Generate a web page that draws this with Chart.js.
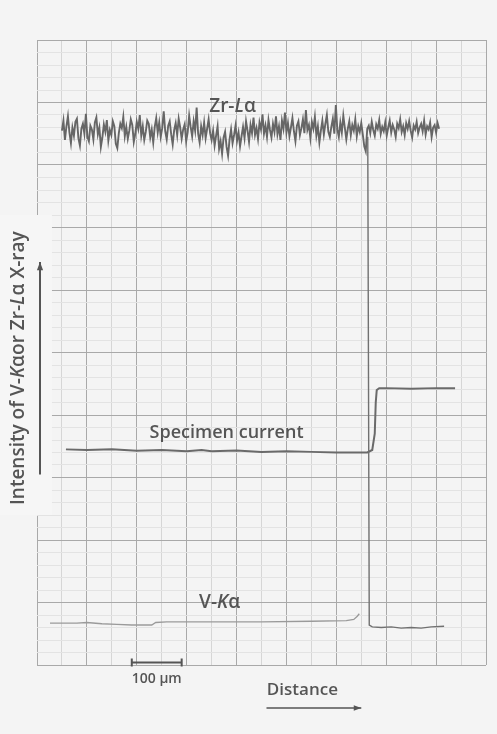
<!DOCTYPE html>
<html>
<head>
<meta charset="utf-8">
<title>Line scan: Zr-Lα, specimen current, V-Kα</title>
<script src="https://cdn.jsdelivr.net/npm/chart.js@4.4.1/dist/chart.umd.min.js"></script>
<style>
  html, body { margin: 0; padding: 0; background: #f4f4f4; }
  canvas { display: block; }
</style>
</head>
<body>
<canvas id="scan" width="497" height="734"></canvas>
<script>
// Recorder divisions: 9 along the distance axis, 10 along the intensity axis
const xDivisions = 9;
const yDivisions = 10;

// Zr-Lα trace, sampled every 0.03 division starting at 0.5
const zrStart = 0.5;
const zrStep = 0.03;
const zrValues = [
  8.55,8.71,8.40,8.62,8.78,8.52,8.35,8.60,8.47,8.69,8.74,8.43,8.31,8.58,8.66,8.50,8.82,8.45,8.38,8.63,
  8.57,8.41,8.68,8.76,8.49,8.60,8.29,8.44,8.65,8.53,8.72,8.39,8.56,8.48,8.70,8.62,8.34,8.27,8.51,8.66,
  8.59,8.77,8.46,8.61,8.42,8.55,8.73,8.64,8.37,8.50,8.69,8.58,8.80,8.47,8.62,8.40,8.53,8.71,8.66,8.44,
  8.57,8.36,8.61,8.75,8.52,8.68,8.45,8.59,8.86,8.54,8.41,8.63,8.70,8.49,8.33,8.56,8.67,8.48,8.74,8.60,
  8.42,8.57,8.65,8.38,8.52,8.79,8.61,8.46,8.70,8.55,8.92,8.50,8.36,8.62,8.48,8.68,8.43,8.58,8.73,8.51,
  8.40,8.55,8.31,8.47,8.62,8.26,8.38,8.18,8.44,8.53,8.29,8.15,8.41,8.57,8.35,8.48,8.63,8.39,8.52,8.30,
  8.46,8.61,8.43,8.70,8.55,8.37,8.64,8.51,8.76,8.48,8.59,8.42,8.68,8.57,8.81,8.50,8.63,8.45,8.72,8.56,
  8.44,8.66,8.53,8.78,8.49,8.62,8.40,8.71,8.58,8.84,8.52,8.67,8.46,8.60,8.75,8.54,8.38,8.63,8.70,8.48,
  8.59,8.73,8.51,8.88,8.56,8.64,8.43,8.69,8.58,8.77,8.47,8.62,8.36,8.55,8.71,8.49,8.66,8.80,8.53,8.45,
  8.61,8.74,8.50,8.96,8.57,8.45,8.68,8.52,8.79,8.60,8.41,8.58,8.70,8.48,8.64,8.55,8.73,8.46,8.62,8.53,
  8.67,8.49,8.30,8.22,8.58,8.63,8.51,8.69,8.56,8.47,8.65,8.58,8.72,8.50,8.61,8.54,8.68,8.47,8.60,8.71,
  8.52,8.64,8.57,8.45,8.66,8.59,8.73,8.53,8.62,8.48,8.67,8.58,8.70,8.55,8.44,8.63,8.57,8.69,8.51,8.60,
  8.66,8.54,8.71,8.49,8.62,8.57,8.68,8.45,8.60,8.64,8.52,8.67,8.58
];

// Zr-Lα falling off at the interface and running along the base line
const zrDropX = [6.63, 6.66, 6.72, 6.90, 7.10, 7.30, 7.50, 7.70, 7.90, 8.16];
const zrDropY = [8.45, 0.64, 0.61, 0.60, 0.61, 0.59, 0.60, 0.59, 0.61, 0.62];

// Specimen current
const currentX = [0.58, 1.0, 1.5, 2.0, 2.5, 3.0, 3.3, 3.5, 4.0, 4.5, 5.0, 5.5, 6.0, 6.4, 6.62, 6.72, 6.77, 6.79, 6.81, 6.86, 7.0, 7.5, 8.0, 8.38];
const currentY = [3.45, 3.44, 3.45, 3.43, 3.44, 3.42, 3.44, 3.42, 3.43, 3.41, 3.42, 3.41, 3.40, 3.40, 3.40, 3.44, 3.70, 4.20, 4.40, 4.43, 4.43, 4.42, 4.43, 4.43];

// V-Kα trace
const vX = [0.26, 0.8, 1.0, 1.3, 1.6, 1.9, 2.3, 2.38, 2.6, 3.5, 4.5, 5.5, 6.2, 6.35, 6.42, 6.46];
const vY = [0.67, 0.67, 0.68, 0.66, 0.65, 0.64, 0.64, 0.68, 0.69, 0.69, 0.69, 0.70, 0.71, 0.73, 0.78, 0.82];

// Grid ticks: major every division, minor halves (x) and fifths (y)
const xTicks = [];
for (let i = 0; i <= xDivisions * 2; i++) xTicks.push(i / 2);
const yTicks = [];
for (let i = 0; i <= yDivisions * 5; i++) yTicks.push(i / 5);

const toPoints = (xs, ys) => xs.map((x, i) => ({ x, y: ys[i] }));
const zrPoints = zrValues.map((y, i) => ({ x: zrStart + i * zrStep, y }));

const ink = '#555555';
const font = '"Open Sans", "DejaVu Sans", sans-serif';

function drawParts(ctx, parts, x, y, size, weight) {
  // parts: [text, italic?]
  let total = 0;
  const widths = parts.map(([t, it]) => {
    ctx.font = `${it ? 'italic ' : ''}${weight} ${size}px ${font}`;
    const w = ctx.measureText(t).width;
    total += w;
    return w;
  });
  let cx = x - total / 2;
  ctx.textAlign = 'left';
  ctx.textBaseline = 'middle';
  parts.forEach(([t, it], i) => {
    ctx.font = `${it ? 'italic ' : ''}${weight} ${size}px ${font}`;
    ctx.fillText(t, cx, y);
    cx += widths[i];
  });
}

function arrow(ctx, x1, y1, x2, y2, head) {
  const a = Math.atan2(y2 - y1, x2 - x1);
  ctx.beginPath();
  ctx.moveTo(x1, y1);
  ctx.lineTo(x2, y2);
  ctx.stroke();
  ctx.beginPath();
  ctx.moveTo(x2, y2);
  ctx.lineTo(x2 - head * Math.cos(a - 0.35), y2 - head * Math.sin(a - 0.35));
  ctx.lineTo(x2 - head * Math.cos(a + 0.35), y2 - head * Math.sin(a + 0.35));
  ctx.closePath();
  ctx.fill();
}

const paper = {
  id: 'paper',
  beforeDraw(chart) {
    const { ctx, width, height } = chart;
    ctx.save();
    ctx.fillStyle = '#f4f4f4';
    ctx.fillRect(0, 0, width, height);
    ctx.restore();
  },
  beforeDatasetsDraw(chart) {
    const { ctx } = chart;
    const x = chart.scales.x, y = chart.scales.y;
    ctx.save();
    // Blank strip carrying the intensity axis title
    ctx.fillStyle = '#f6f6f6';
    ctx.fillRect(0, y.getPixelForValue(7.2), x.getPixelForValue(0.3), y.getPixelForValue(2.4) - y.getPixelForValue(7.2));

    ctx.fillStyle = ink;
    ctx.strokeStyle = ink;

    // Rotated axis title
    ctx.save();
    ctx.translate(19, y.getPixelForValue(4.75));
    ctx.rotate(-Math.PI / 2);
    drawParts(ctx, [['Intensity of V-', false], ['K', true], ['α', false], ['or Zr-', false], ['L', true], ['α X-ray', false]], 0, 0, 19, '600');
    ctx.restore();
    ctx.lineWidth = 2;
    arrow(ctx, 40, y.getPixelForValue(3.05), 40, y.getPixelForValue(6.45), 9);

    // Trace labels
    drawParts(ctx, [['Zr-', false], ['L', true], ['α', false]], x.getPixelForValue(3.92), y.getPixelForValue(8.93), 19, '600');
    drawParts(ctx, [['Specimen current', false]], x.getPixelForValue(3.8), y.getPixelForValue(3.72), 18, '600');
    drawParts(ctx, [['V-', false], ['K', true], ['α', false]], x.getPixelForValue(3.66), y.getPixelForValue(1.0), 19, '600');

    // 100 µm scale bar
    const bx1 = x.getPixelForValue(1.9), bx2 = x.getPixelForValue(2.9);
    const by = y.getPixelForValue(0.04);
    ctx.lineWidth = 2;
    ctx.beginPath();
    ctx.moveTo(bx1, by); ctx.lineTo(bx2, by);
    ctx.moveTo(bx1, by - 4); ctx.lineTo(bx1, by + 4);
    ctx.moveTo(bx2, by - 4); ctx.lineTo(bx2, by + 4);
    ctx.stroke();
    drawParts(ctx, [['100 µm', false]], (bx1 + bx2) / 2, by + 17, 14, '600');

    // Distance label and arrow
    drawParts(ctx, [['Distance', false]], x.getPixelForValue(5.32), 690, 17, '600');
    ctx.lineWidth = 1.3;
    arrow(ctx, x.getPixelForValue(4.6), 708, x.getPixelForValue(6.5), 708, 8);
    ctx.restore();
  }
};

const gridColor = (major, minor) => (c) => {
  const v = c.tick ? c.tick.value : 0;
  return Math.abs(v - Math.round(v)) < 1e-6 ? major : minor;
};

new Chart(document.getElementById('scan'), {
  type: 'scatter',
  data: {
    datasets: [
      { label: 'Zr-Lα', data: zrPoints, showLine: true, borderColor: '#666666', borderWidth: 1.9, pointRadius: 0 },
      { label: 'Zr-Lα interface', data: toPoints(zrDropX, zrDropY), showLine: true, borderColor: '#707070', borderWidth: 1.4, pointRadius: 0 },
      { label: 'Specimen current', data: toPoints(currentX, currentY), showLine: true, borderColor: '#6a6a6a', borderWidth: 2, pointRadius: 0 },
      { label: 'V-Kα', data: toPoints(vX, vY), showLine: true, borderColor: '#9a9a9a', borderWidth: 1.3, pointRadius: 0 }
    ]
  },
  options: {
    responsive: false,
    animation: false,
    events: [],
    layout: { padding: { left: 37, top: 40, right: 11, bottom: 69 } },
    plugins: { legend: { display: false }, tooltip: { enabled: false } },
    scales: {
      x: {
        type: 'linear', min: 0, max: xDivisions,
        afterBuildTicks: (s) => { s.ticks = xTicks.map(value => ({ value })); },
        ticks: { display: false },
        border: { display: false },
        grid: { drawTicks: false, color: gridColor('#a9a9a9', '#d6d6d6'), lineWidth: 1 }
      },
      y: {
        type: 'linear', min: 0, max: yDivisions,
        afterBuildTicks: (s) => { s.ticks = yTicks.map(value => ({ value })); },
        ticks: { display: false },
        border: { display: false },
        grid: { drawTicks: false, color: gridColor('#a9a9a9', '#e3e3e3'), lineWidth: 1 }
      }
    }
  },
  plugins: [paper]
});
</script>
</body>
</html>
